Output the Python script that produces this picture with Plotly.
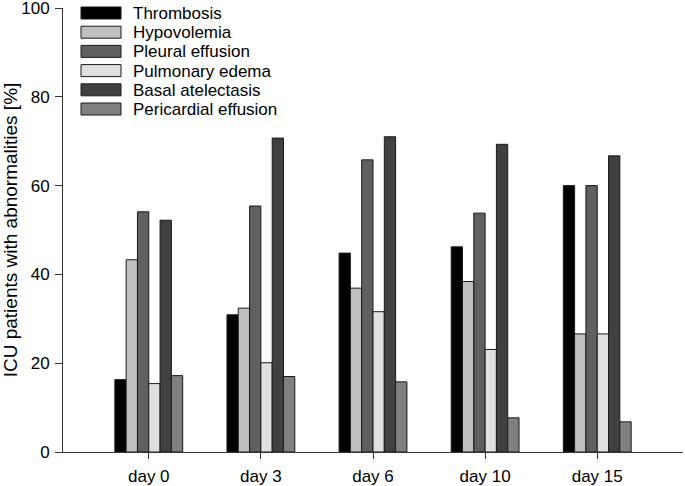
import plotly.graph_objects as go

categories = ["day 0", "day 3", "day 6", "day 10", "day 15"]
thrombosis = [16.3, 30.9, 44.8, 46.2, 60.0]
hypovolemia = [43.3, 32.4, 36.9, 38.4, 26.6]
pleural_effusion = [54.1, 55.4, 65.8, 53.8, 60.0]
pulmonary_edema = [15.4, 20.1, 31.6, 23.1, 26.6]
basal_atelectasis = [52.2, 70.7, 71.0, 69.3, 66.7]
pericardial_effusion = [17.2, 17.0, 15.8, 7.7, 6.8]
y_ticks = [0, 20, 40, 60, 80, 100]

series = [
    ("Thrombosis", thrombosis, "#000000"),
    ("Hypovolemia", hypovolemia, "#c0c0c0"),
    ("Pleural effusion", pleural_effusion, "#606060"),
    ("Pulmonary edema", pulmonary_edema, "#e0e0e0"),
    ("Basal atelectasis", basal_atelectasis, "#404040"),
    ("Pericardial effusion", pericardial_effusion, "#808080"),
]

W, H = 685, 486
L, R, T, B = 63, 2, 8, 34
PW, PH = W - L - R, H - T - B
EDGE = "#1a1a1a"
font = "Liberation Sans, Arial, sans-serif"


def px_x(p):
    return (p - L) / PW


def px_y(p):
    return (H - B - p) / PH


fig = go.Figure()
for name, vals, color in series:
    fig.add_trace(go.Bar(
        x=categories, y=vals, name=name, showlegend=False,
        marker=dict(color=color, line=dict(color=EDGE, width=1)),
    ))

# legend drawn as wide swatches like the reference
shapes, annotations = [], []
for i, (name, _, color) in enumerate(series):
    cy = 13 + 19.2 * i
    shapes.append(dict(type="rect", xref="paper", yref="paper",
                       x0=px_x(81), x1=px_x(121), y0=px_y(cy + 6), y1=px_y(cy - 6),
                       fillcolor=color, line=dict(color=EDGE, width=1)))
    annotations.append(dict(text=name, xref="paper", yref="paper", x=px_x(131), y=px_y(cy + 0.5),
                            xanchor="left", yanchor="middle", showarrow=False,
                            font=dict(size=17, family=font, color="#000000")))

fig.update_layout(
    width=W, height=H,
    margin=dict(l=L, r=R, t=T, b=B),
    paper_bgcolor="white", plot_bgcolor="white",
    barmode="group", bargap=0.395, bargroupgap=0,
    font=dict(family=font, size=17, color="#000000"),
    showlegend=False,
    shapes=shapes, annotations=annotations,
    xaxis=dict(range=[-0.765, 4.765], showline=True, linecolor="#333333", linewidth=1,
               ticks="outside", ticklen=6, tickcolor="#333333", showgrid=False,
               zeroline=False, tickfont=dict(size=17), automargin=False,
               ticklabelstandoff=3),
    yaxis=dict(range=[0, 100], tickvals=y_ticks, showline=True, linecolor="#333333",
               linewidth=1, ticks="outside", ticklen=7, tickcolor="#333333",
               showgrid=False, zeroline=False, tickfont=dict(size=17), automargin=False,
               ticklabeloverflow="allow", ticklabelstandoff=2,
               title=dict(text="ICU patients with abnormalities [%]", font=dict(size=19), standoff=13)),
)

fig.write_html("out.html", config={"displayModeBar": False},
               post_script="document.body.style.margin='0';document.body.style.overflow='hidden';")
